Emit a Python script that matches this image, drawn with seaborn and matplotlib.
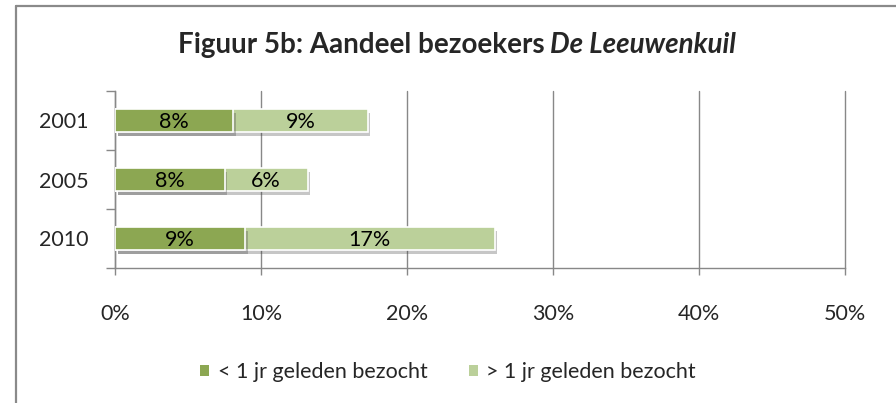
import matplotlib
matplotlib.use("Agg")
import matplotlib.pyplot as plt
import matplotlib.patheffects as pe
from matplotlib.patches import Patch
from matplotlib.lines import Line2D
import seaborn as sns
import pandas as pd
import numpy as np

# ---- data ----
years = ["2001", "2005", "2010"]
recent = [8.1, 7.5, 8.9]      # < 1 jr geleden bezocht (%)
older = [9.2, 5.7, 17.1]      # > 1 jr geleden bezocht (%)
xticks = [0, 10, 20, 30, 40, 50]
series_names = ["< 1 jr geleden bezocht", "> 1 jr geleden bezocht"]
title_main = "Figuur 5b: Aandeel bezoekers"
title_ital = "De Leeuwenkuil"

dark = "#8CA752"
light = "#BBD09A"
gridc = "#888888"

sns.set_style("white")
plt.rcParams["font.family"] = ["Lato", "DejaVu Sans"]

df = pd.DataFrame({"year": years, "recent": recent, "older": older})
df["total"] = df["recent"] + df["older"]

W, H = 896, 403
fig = plt.figure(figsize=(W / 100, H / 100), dpi=100)
ax = fig.add_axes([115 / W, 1 - 268 / H, 730 / W, 177 / H])

shadow = [pe.SimplePatchShadow(offset=(2, -3), shadow_rgbFace="#444444", alpha=0.3), pe.Normal()]

sns.barplot(data=df, x="total", y="year", order=years, orient="h", color=light,
            width=0.39, saturation=1, edgecolor="white", linewidth=1.2, ax=ax, zorder=3)
sns.barplot(data=df, x="recent", y="year", order=years, orient="h", color=dark,
            width=0.39, saturation=1, edgecolor="white", linewidth=1.2, ax=ax, zorder=4)
for p in ax.patches:
    p.set_path_effects(shadow)

fs = 15.5
# data labels
for i, (r, o) in enumerate(zip(recent, older)):
    ax.text(r / 2, i + 0.03, f"{round(r)}%", ha="center", va="center", fontsize=fs, color="black", zorder=6)
    ax.text(r + o / 2, i + 0.03, f"{round(o)}%", ha="center", va="center", fontsize=fs, color="black", zorder=6)

ax.set_xlim(0, 50)
ax.set_ylim(2.5, -0.5)
ax.set_xticks(xticks)
ax.set_xticklabels([f"{v}%" for v in xticks], fontsize=fs)
ax.set_yticks([-0.5, 0.5, 1.5, 2.5])
ax.set_yticklabels([])
ax.set_yticks(range(len(years)), minor=True)
ax.set_yticklabels(years, minor=True, fontsize=fs)
ax.tick_params(axis="y", which="major", direction="out", length=6.5, width=1, color=gridc, left=True)
ax.tick_params(axis="y", which="minor", length=0, pad=19)
ax.tick_params(axis="x", direction="out", length=5, width=1, color=gridc, pad=21, bottom=True)
ax.set_xlabel("")
ax.set_ylabel("")
ax.grid(axis="x", color=gridc, linewidth=1, zorder=0)
ax.grid(axis="y", visible=False)
for gl in ax.get_xgridlines():
    gl.set_clip_on(False)
ax.set_axisbelow(True)
for s in ["top", "right"]:
    ax.spines[s].set_visible(False)
for s in ["left", "bottom"]:
    ax.spines[s].set_color(gridc)
    ax.spines[s].set_linewidth(1)

# title with mixed styles
fig.canvas.draw()
r = fig.canvas.get_renderer()
ty = 1 - 53 / H
t1 = fig.text(0, ty, title_main, fontsize=20, fontweight="bold", va="baseline")
t2 = fig.text(0, ty, title_ital, fontsize=20, fontweight="bold", fontstyle="italic", va="baseline")
w1 = t1.get_window_extent(r).width
w2 = t2.get_window_extent(r).width
gap = 6
x0 = 457 - (w1 + gap + w2) / 2
t1.set_x(x0 / W)
t2.set_x((x0 + w1 + gap) / W)

# legend
handles = [Patch(facecolor=dark, edgecolor="none"), Patch(facecolor=light, edgecolor="none")]
fig.legend(handles, series_names, loc="center", bbox_to_anchor=(448 / W, 1 - 372 / H),
           bbox_transform=fig.transFigure, ncol=2, frameon=False, fontsize=fs,
           handlelength=0.42, handleheight=0.42, handletextpad=0.4, columnspacing=1.9)

# chart border
fig.add_artist(Line2D([15.5 / W, 15.5 / W], [1 - 6 / H, 0], transform=fig.transFigure,
                      color="#8a8a8a", linewidth=1.6))
fig.add_artist(Line2D([15.5 / W, 1], [1 - 6 / H, 1 - 6 / H], transform=fig.transFigure,
                      color="#8a8a8a", linewidth=1.6))

fig.savefig("out.png", dpi=100)
